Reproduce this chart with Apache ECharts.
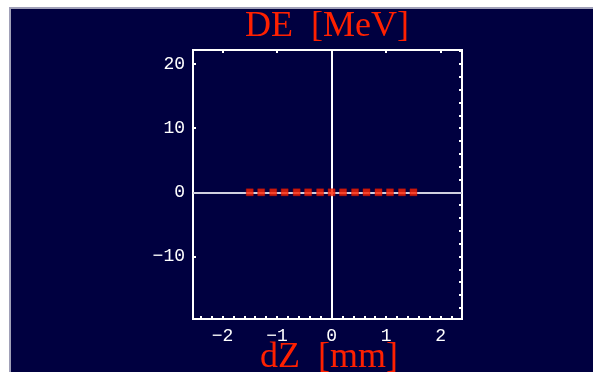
<!DOCTYPE html>
<html>
<head>
<meta charset="utf-8">
<script src="https://cdn.jsdelivr.net/npm/echarts@6/dist/echarts.min.js"></script>
<style>
html,body{margin:0;padding:0;background:#ffffff;}
#chart{width:593px;height:372px;}
</style>
</head>
<body>
<div id="chart"></div>
<script>
// Data
const dZ = [-1.5, -1.29, -1.07, -0.86, -0.64, -0.43, -0.21, 0, 0.21, 0.43, 0.64, 0.86, 1.07, 1.29, 1.5];
const DE = [0, 0, 0, 0, 0, 0, 0, 0, 0, 0, 0, 0, 0, 0, 0];
const xTickLabels = [-2, -1, 0, 1, 2];
const yTickLabels = [-10, 0, 10, 20];
const xTitle = 'dZ  [mm]';
const yTitle = 'DE  [MeV]';

const xMin = -2.54, xMax = 2.39, yMin = -19.75, yMax = 22.18;

function range(a, b, step) {
  const out = [];
  const n0 = Math.ceil(a / step - 1e-9), n1 = Math.floor(b / step + 1e-9);
  for (let n = n0; n <= n1; n++) out.push(+(n * step).toFixed(4));
  return out;
}
const xMinor = range(xMin, xMax, 0.2);
const yMinor = range(yMin, yMax, 2);
const fmt = v => (v < 0 ? '\u2212' + Math.abs(v) : String(v));

const lblFont = {color: '#ffffff', fontFamily: 'Liberation Mono', fontSize: 18};
const titleFont = {color: '#ff2000', fontFamily: 'Liberation Serif', fontSize: 36, fontWeight: 'normal'};
const tickStyle = {color: '#ffffff', width: 2};
const chart = echarts.init(document.getElementById('chart'));
chart.setOption({
  animation: false,
  backgroundColor: '#ffffff',
  graphic: [
    {type: 'rect', z: -10, shape: {x: 10, y: 8, width: 590, height: 370},
     style: {fill: '#000040', stroke: '#a0a0b8', lineWidth: 2}}
  ],
  title: [
    {text: yTitle, left: 322, top: 4, textAlign: 'center', textStyle: titleFont},
    {text: xTitle, left: 324, top: 335, textAlign: 'center', textStyle: titleFont}
  ],
  grid: {left: 193, top: 50, right: 131, bottom: 53, show: true,
         borderColor: '#ffffff', borderWidth: 2, backgroundColor: 'transparent'},
  xAxis: [
    {type: 'value', min: xMin, max: xMax, position: 'bottom',
     axisLine: {show: false, onZero: false}, splitLine: {show: false},
     axisTick: {show: true, inside: true, length: 3, customValues: xMinor, lineStyle: tickStyle},
     axisLabel: Object.assign({customValues: xTickLabels, formatter: fmt, margin: 8}, lblFont)},
    {type: 'value', min: xMin, max: xMax, position: 'top',
     axisLine: {show: false, onZero: false}, splitLine: {show: false},
     axisTick: {show: true, inside: true, length: 3, customValues: xTickLabels, lineStyle: tickStyle},
     axisLabel: {show: false}}
  ],
  yAxis: [
    {type: 'value', min: yMin, max: yMax, position: 'left',
     axisLine: {show: false, onZero: false}, splitLine: {show: false},
     axisTick: {show: true, inside: true, length: 3, customValues: yTickLabels, lineStyle: tickStyle},
     axisLabel: Object.assign({customValues: yTickLabels, formatter: fmt, margin: 8}, lblFont)},
    {type: 'value', min: yMin, max: yMax, position: 'right',
     axisLine: {show: false, onZero: false}, splitLine: {show: false},
     axisTick: {show: true, inside: true, length: 3, customValues: yMinor, lineStyle: tickStyle},
     axisLabel: {show: false}}
  ],
  series: [{
    type: 'scatter',
    data: dZ.map((x, i) => [x, DE[i]]),
    symbol: 'rect', symbolSize: 7,
    itemStyle: {color: '#ff2200', borderColor: '#c01000', borderWidth: 0.5},
    z: 5,
    markLine: {
      silent: true, symbol: 'none', label: {show: false}, z: 1,
      data: [
        {yAxis: 0, lineStyle: {color: '#d0d0e0', width: 2, type: 'solid'}},
        {xAxis: 0, lineStyle: {color: '#ffffff', width: 2, type: 'solid'}}
      ]
    }
  }]
});
</script>
</body>
</html>
